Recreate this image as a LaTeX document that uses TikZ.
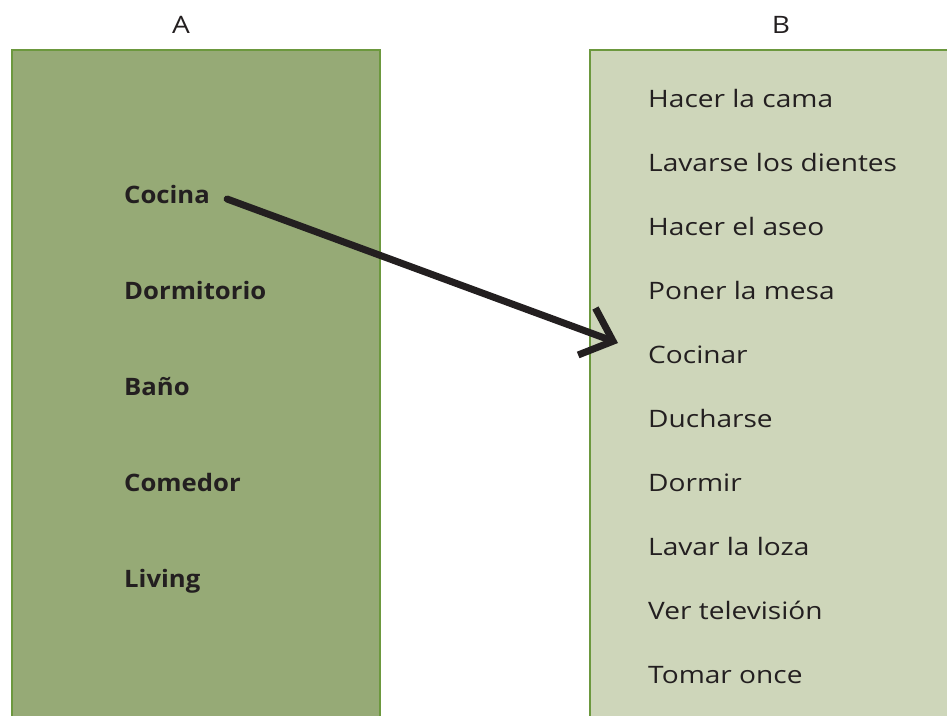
\documentclass[tikz,border=0pt]{standalone}
\usepackage{fontspec}
\setmainfont{Open Sans}
\newfontfamily\taskfont[FakeStretch=1.17]{Open Sans}
\newfontfamily\roomfont[FakeStretch=1.07]{Open Sans Bold}
\usetikzlibrary{arrows.meta,positioning}
\definecolor{darkgreen}{RGB}{150,170,118}
\definecolor{lightgreen}{RGB}{206,214,186}
\definecolor{edgegreen}{RGB}{108,152,62}
\definecolor{inkgray}{RGB}{35,31,32}

\begin{document}
\begin{tikzpicture}[x=1pt, y=-1pt, every node/.style={font=\fontsize{24}{28}\selectfont\taskfont, text=inkgray},
  panel/.style={draw=edgegreen, line width=2pt, anchor=north west, inner sep=0pt},
  room/.style={anchor=base west, inner sep=0pt, font=\fontsize{24}{28}\selectfont\roomfont},
  task/.style={anchor=base west, inner sep=0pt}]
\useasboundingbox (0,0) rectangle (947,715);
\node[panel, fill=darkgreen, minimum width=368pt, minimum height=700pt] (colA) at (11,49) {};
\node[panel, fill=lightgreen, minimum width=400pt, minimum height=700pt] (colB) at (589,49) {};
\node[anchor=base] (titleA) at (181,33) {A};
\node[anchor=base] (titleB) at (781,33) {B};
% rooms
\node[room] (cocina) at (124,203) {Cocina};
\node[room] (dormitorio) at (124,299) {Dormitorio};
\node[room] (bano) at (124,395) {Baño};
\node[room] (comedor) at (124,491) {Comedor};
\node[room] (living) at (124,587) {Living};
% tasks
\node[task] (cama) at (648,107) {Hacer la cama};
\node[task] (dientes) at (648,171) {Lavarse los dientes};
\node[task] (aseo) at (648,235) {Hacer el aseo};
\node[task] (mesa) at (648,299) {Poner la mesa};
\node[task] (cocinar) at (648,363) {Cocinar};
\node[task] (ducharse) at (648,427) {Ducharse};
\node[task] (dormir) at (648,491) {Dormir};
\node[task] (loza) at (648,555) {Lavar la loza};
\node[task] (tele) at (648,619) {Ver televisión};
\node[task] (once) at (648,683) {Tomar once};
\draw[-{Straight Barb[length=28pt, width=50pt]}, line width=7pt, line cap=round, inkgray]
  ([xshift=17pt, yshift=4pt]cocina.base east) -- ([xshift=-30pt, yshift=20pt]cocinar.base west);
\end{tikzpicture}
\end{document}
